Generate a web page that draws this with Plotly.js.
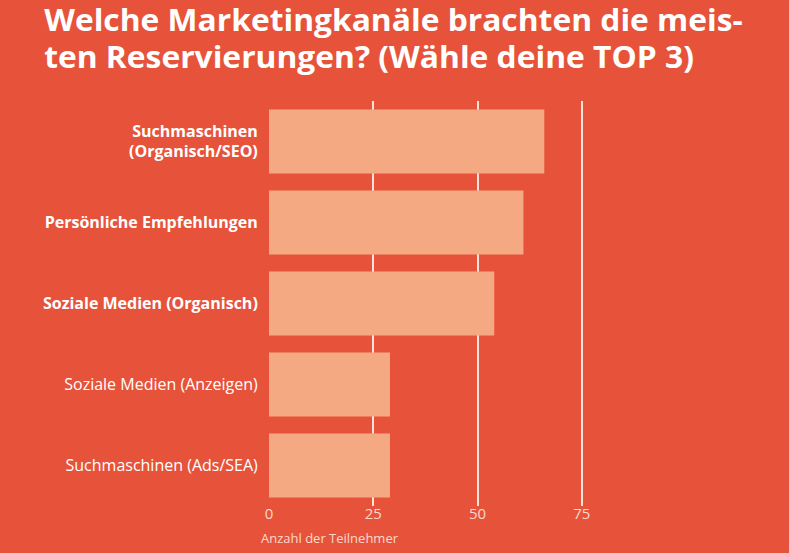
<!DOCTYPE html>
<html>
<head>
<meta charset="utf-8">
<script src="https://cdn.plot.ly/plotly-3.0.1.min.js"></script>
<style>
  html, body { margin: 0; padding: 0; background: #E6533A; }
  #chart { width: 789px; height: 553px; }
</style>
</head>
<body>
<div id="chart"></div>
<script>
// Data (bottom to top in plotting order)
const categories = [
  "Suchmaschinen (Ads/SEA)",
  "Soziale Medien (Anzeigen)",
  "Soziale Medien (Organisch)",
  "Persönliche Empfehlungen",
  "Suchmaschinen (Organisch/SEO)"
];
const tickLabels = [
  "Suchmaschinen (Ads/SEA)",
  "Soziale Medien (Anzeigen)",
  "<b>Soziale Medien (Organisch)</b>",
  "<b>Persönliche Empfehlungen</b>",
  "<b>Suchmaschinen</b><br><b>(Organisch/SEO)</b>"
];
const values = [29, 29, 54, 61, 66];
const xTicks = [0, 25, 50, 75];
const titleLines = [
  "Welche Marketingkanäle brachten die meis-",
  "ten Reservierungen? (Wähle deine TOP 3)"
];
const axisTitle = "Anzahl der Teilnehmer";

const bg = "#E6533A";
const barColor = "#F4A982";
const fontFam = "Open Sans, sans-serif";

const trace = {
  type: "bar",
  orientation: "h",
  y: categories,
  x: values,
  marker: { color: barColor },
  hoverinfo: "x+y"
};

const layout = {
  width: 789,
  height: 553,
  paper_bgcolor: bg,
  plot_bgcolor: bg,
  margin: { l: 269, r: 203, t: 101, b: 47 },
  bargap: 0.21,
  showlegend: false,
  font: { family: fontFam, color: "#FFFFFF" },
  xaxis: {
    range: [0, 76],
    tickvals: xTicks,
    ticktext: xTicks.map(String),
    showgrid: true,
    gridcolor: "#FBE3DA",
    gridwidth: 2,
    zeroline: false,
    showline: false,
    ticks: "",
    ticklabelstandoff: -3,
    tickfont: { family: fontFam, size: 15, color: "#FAD9CD" },
    fixedrange: true
  },
  yaxis: {
    categoryorder: "array",
    categoryarray: categories,
    tickmode: "array",
    tickvals: categories,
    ticktext: tickLabels,
    showgrid: false,
    zeroline: false,
    showline: false,
    ticks: "outside",
    ticklen: 7,
    tickcolor: "rgba(0,0,0,0)",
    tickfont: { family: fontFam, size: 16, color: "#FFFFFF" },
    fixedrange: true
  },
  annotations: [
    {
      text: "<b>" + titleLines[0] + "</b>",
      xref: "paper", yref: "paper",
      x: 0, y: 1, xanchor: "left", yanchor: "bottom",
      xshift: -227, yshift: 59,
      showarrow: false,
      font: { family: fontFam, size: 30, color: "#FFFFFF" }
    },
    {
      text: "<b>" + titleLines[1] + "</b>",
      xref: "paper", yref: "paper",
      x: 0, y: 1, xanchor: "left", yanchor: "bottom",
      xshift: -227, yshift: 22,
      showarrow: false,
      font: { family: fontFam, size: 30, color: "#FFFFFF" }
    },
    {
      text: axisTitle,
      xref: "paper", yref: "paper",
      x: 0, y: 0, xanchor: "left", yanchor: "top",
      xshift: -10, yshift: -21,
      showarrow: false,
      font: { family: fontFam, size: 13, color: "#FAD9CD" }
    }
  ]
};

Plotly.newPlot("chart", [trace], layout, { displayModeBar: false }).then(function () {
  // Fit the first title line to the reference width (44 -> 743 px), same factor for line 2
  const texts = document.querySelectorAll("#chart .annotation-text");
  if (texts.length >= 2) {
    const r0 = texts[0].getBoundingClientRect();
    const scale = 699 / r0.width;
    for (let i = 0; i < 2; i++) {
      const t = texts[i];
      const bb = t.getBBox();
      const bx = bb.x;
      const existing = t.getAttribute("transform") || "";
      t.setAttribute("transform",
        existing + " translate(" + bx + ",0) scale(" + scale + ",1) translate(" + (-bx) + ",0)");
    }
  }
});
</script>
</body>
</html>
